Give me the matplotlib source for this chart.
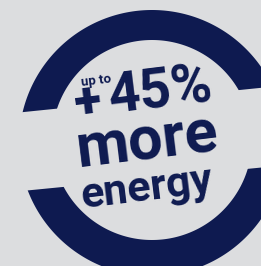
import numpy as np
import matplotlib
matplotlib.use("Agg")
import matplotlib.pyplot as plt
from matplotlib.path import Path
from matplotlib.patches import PathPatch, Polygon

# ---- content ----
small_label = "up to"
sign_label = "+"
value_label = "45%"
line2_label = "more"
line3_label = "energy"

BG = "#dcdddf"
NAVY = "#0e1a50"

fig = plt.figure(figsize=(2.61, 2.66), dpi=100)
fig.patch.set_facecolor(BG)
ax = fig.add_axes([0, 0, 1, 1])
ax.set_facecolor(BG)
ax.set_xlim(0, 261)
ax.set_ylim(266, 0)
ax.axis("off")

# ---- ring (outer and inner circles slightly offset, stamp style) ----
t = np.linspace(0, 2 * np.pi, 400)
ocx, ocy, orad = 152, 143, 133
icx, icy, irad = 152, 140, 100
outer = np.column_stack([ocx + orad * np.cos(t), ocy + orad * np.sin(t)])
inner = np.column_stack([icx + irad * np.cos(t[::-1]), icy + irad * np.sin(t[::-1])])
verts = np.vstack([outer, outer[:1], inner, inner[:1]])
codes = ([Path.MOVETO] + [Path.LINETO] * (len(outer) - 1) + [Path.CLOSEPOLY]
         + [Path.MOVETO] + [Path.LINETO] * (len(inner) - 1) + [Path.CLOSEPOLY])
ax.add_patch(PathPatch(Path(verts, codes), facecolor=NAVY, edgecolor="none", zorder=1))

# ---- tilted gap band cutting the ring ----
def top_line(x):
    return 112 - 0.102 * (x - 24)

def bot_line(x):
    return 190 - 0.098 * (x - 32)

band = Polygon([(-20, top_line(-20)), (290, top_line(290)),
                (290, bot_line(290)), (-20, bot_line(-20))],
               closed=True, facecolor=BG, edgecolor="none", zorder=2)
ax.add_patch(band)

# ---- text ----
ROT = 7
FONT = ["Roboto", "DejaVu Sans"]
kw = dict(color=NAVY, family=FONT, rotation=ROT, rotation_mode="anchor", zorder=3)
ax.text(82, 86, small_label, fontsize=9.5, fontweight="bold", ha="left", va="baseline", **kw)
ax.text(88, 104, sign_label, fontsize=36, fontweight="black", ha="center", va="center", **kw)
ax.text(110, 114, value_label, fontsize=40, fontweight="bold", ha="left", va="baseline", **kw)
ax.text(79, 168, line2_label, fontsize=44, fontweight="bold", ha="left", va="baseline", **kw)
ax.text(82, 208, line3_label, fontsize=31, fontweight="bold", ha="left", va="baseline", **kw)

fig.savefig("out.png", dpi=100, facecolor=BG)
